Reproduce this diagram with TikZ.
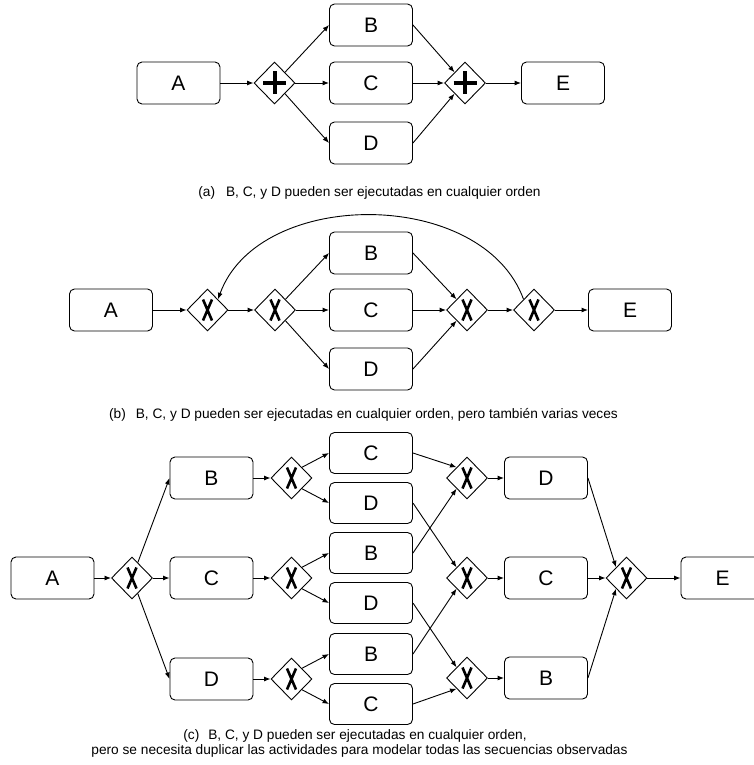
\documentclass[tikz,border=0pt]{standalone}
\usepackage{fontspec}
\setmainfont{Liberation Sans}
\usetikzlibrary{shapes.geometric,arrows.meta}

\begin{document}
\begin{tikzpicture}[x=1pt, y=-1pt, line width=0.9pt,
		task/.style={draw, rounded corners=5pt, minimum width=83pt, minimum height=42pt, inner sep=0pt, font=\fontsize{21}{24}\selectfont},
		gate/.style={draw, diamond, minimum width=41pt, minimum height=42pt, inner sep=0pt, fill=white},
		andgate/.style={gate, path picture={
			\draw[line width=4pt] ([shift={(-11.5,0)}]path picture bounding box.center) to ([shift={(11.5,0)}]path picture bounding box.center)
				([shift={(0,-11.5)}]path picture bounding box.center) to ([shift={(0,11.5)}]path picture bounding box.center);}},
		xorgate/.style={gate, path picture={
			\draw[line width=2.6pt] ([shift={(-4.5,-10.5)}]path picture bounding box.center) to ([shift={(4.5,10.5)}]path picture bounding box.center)
				([shift={(4.5,-10.5)}]path picture bounding box.center) to ([shift={(-4.5,10.5)}]path picture bounding box.center);}},
		flow/.style={-{Latex[length=6.5pt,width=5pt]}},
		caption/.style={anchor=base, inner sep=0pt, font=\fontsize{13.7}{15}\selectfont}]
			\useasboundingbox (0, 0) rectangle (754, 765);

			% (a)
			\node[task](aA) at(178.5, 83){A};
			\node[andgate](aP1) at(274.5, 83){};
			\node[task](aB) at(371, 25){B};
			\node[task](aC) at(371, 83){C};
			\node[task](aD) at(371, 143){D};
			\node[andgate](aP2) at(465, 83){};
			\node[task](aE) at(563, 83){E};

				\draw[flow](aA) to (aP1);
				\draw[flow](aP1.north east) to (aB.west);
				\draw[flow](aP1) to (aC);
				\draw[flow](aP1.south east) to (aD.west);
				\draw[flow](aB.east) to (aP2.north west);
				\draw[flow](aC) to (aP2);
				\draw[flow](aD.east) to (aP2.south west);
				\draw[flow](aP2) to (aE);

			\node[caption](capa) at(369.5, 196){(a)\hspace{11pt}B, C, y D pueden ser ejecutadas en cualquier orden};

			% (b)
			\node[task](bA) at(111, 310){A};
			\node[xorgate](bX1) at(207.5, 310){};
			\node[xorgate](bX2) at(275, 310){};
			\node[task](bB) at(371, 253){B};
			\node[task](bC) at(371, 310){C};
			\node[task](bD) at(371, 369){D};
			\node[xorgate](bX3) at(467, 310){};
			\node[xorgate](bX4) at(534, 310){};
			\node[task](bE) at(630, 310){E};

				\draw[flow](bA) to (bX1);
				\draw[flow](bX1) to (bX2);
				\draw[flow](bX2.north east) to (bB.west);
				\draw[flow](bX2) to (bC);
				\draw[flow](bX2.south east) to (bD.west);
				\draw[flow](bB.east) to (bX3.north west);
				\draw[flow](bC) to (bX3);
				\draw[flow](bD.east) to (bX3.south west);
				\draw[flow](bX3) to (bX4);
				\draw[flow](bX4) to (bE);
				\draw[flow](bX4.north west) to[out=110, in=70] (bX1.north east);

			\node[caption](capb) at(363.5, 418){(b)\hspace{10pt}B, C, y D pueden ser ejecutadas en cualquier orden, pero también varias veces};

			% (c)
			\node[task](cA) at(52.5, 578){A};
			\node[xorgate](cG0) at(132, 578){};
			\node[task](cB) at(211.5, 478){B};
			\node[task](cC) at(211.5, 578){C};
			\node[task](cD) at(211.5, 679){D};
			\node[xorgate](cG1) at(291.5, 478){};
			\node[xorgate](cG2) at(291.5, 578){};
			\node[xorgate](cG3) at(291.5, 679){};

			\node[task, minimum height=41pt](cC1) at(371, 453){C};
			\node[task, minimum height=41pt](cD1) at(371, 503){D};
			\node[task, minimum height=41pt](cB1) at(371, 553){B};
			\node[task, minimum height=41pt](cD2) at(371, 603){D};
			\node[task, minimum height=41pt](cB2) at(371, 654){B};
			\node[task, minimum height=41pt](cC2) at(371, 704){C};

			\node[xorgate](cG4) at(467, 478){};
			\node[xorgate](cG5) at(467, 578){};
			\node[xorgate](cG6) at(467, 678){};
			\node[task](cD3) at(546, 478){D};
			\node[task](cC3) at(546, 578){C};
			\node[task](cB3) at(546, 678){B};
			\node[xorgate](cG7) at(626.5, 578){};
			\node[task](cE) at(722.5, 578){E};

				\draw[flow](cA) to (cG0);
				\draw[flow](cG0) to (cB.west);
				\draw[flow](cG0) to (cC);
				\draw[flow](cG0) to (cD.west);
				\draw[flow](cB) to (cG1);
				\draw[flow](cC) to (cG2);
				\draw[flow](cD) to (cG3);

				\draw[flow](cG1.north east) to (cC1.west);
				\draw[flow](cG1.south east) to (cD1.west);
				\draw[flow](cG2.north east) to (cB1.west);
				\draw[flow](cG2.south east) to (cD2.west);
				\draw[flow](cG3.north east) to (cB2.west);
				\draw[flow](cG3.south east) to (cC2.west);

				\draw[flow](cC1.east) to (cG4.north west);
				\draw[flow](cD1.east) to (cG5.north west);
				\draw[flow](cB1.east) to (cG4.south west);
				\draw[flow](cD2.east) to (cG6.north west);
				\draw[flow](cB2.east) to (cG5.south west);
				\draw[flow](cC2.east) to (cG6.south west);

				\draw[flow](cG4) to (cD3);
				\draw[flow](cG5) to (cC3);
				\draw[flow](cG6) to (cB3);
				\draw[flow](cD3.east) to (cG7.north west);
				\draw[flow](cC3) to (cG7);
				\draw[flow](cB3.east) to (cG7.south west);
				\draw[flow](cG7) to (cE);

			\node[caption](capc1) at(355, 739.5){(c)\hspace{9pt}B, C, y D pueden ser ejecutadas en cualquier orden,};
			\node[caption](capc2) at(359.5, 754.5){pero se necesita duplicar las actividades para modelar todas las secuencias observadas};
		\end{tikzpicture}
\end{document}
